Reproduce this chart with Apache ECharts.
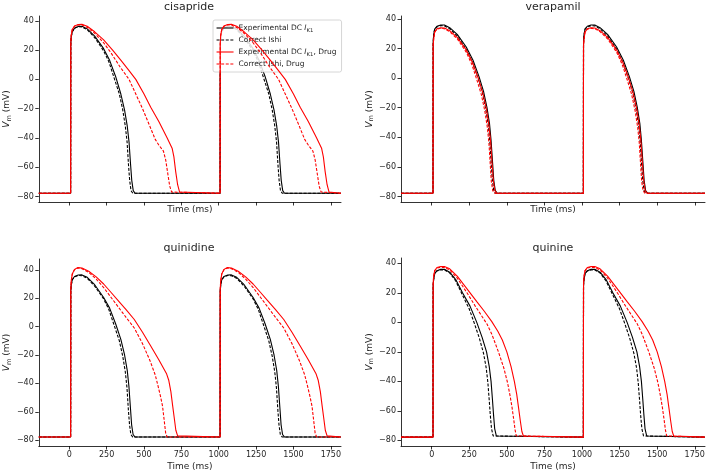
<!DOCTYPE html>
<html><head><meta charset="utf-8">
<script src="https://cdn.jsdelivr.net/npm/echarts@6/dist/echarts.min.js"></script>
<style>html,body{margin:0;padding:0;background:#fff}#c{width:709px;height:473px}</style>
</head><body><div id="c"></div>
<script>
// ---- labels ----
const panelTitles = ['cisapride', 'verapamil', 'quinidine', 'quinine'];
const seriesNames = ['Experimental DC IK1', 'Correct Ishi', 'Experimental DC IK1, Drug', 'Correct Ishi, Drug'];
const yTicks = [-80, -60, -40, -20, 0, 20, 40];
const xTicks = [0, 250, 500, 750, 1000, 1250, 1500, 1750];
const yRanges = [[-83.8, 43.3], [-83.7, 41.9], [-84.1, 47.6], [-83.8, 43.6]];
const xRange = [-204, 1818];

// ---- cisapride [time ms, Vm mV] ----
const cisExp = [[-204,-77.8],[9,-77.8],[10,24],[13,29],[20,32.5],[35,35],[60,36.2],[85,36.3],[120,34.5],[170,29.5],[230,21],[270,13],[310,2],[345,-10],[370,-21],[388,-32],[400,-43],[410,-58],[418,-69],[428,-76],[440,-77.8],
  [1009,-77.8],[1010,24],[1013,29],[1020,32.5],[1035,35],[1060,36.2],[1085,36.3],[1120,34.5],[1170,29.5],[1230,21],[1270,13],[1310,2],[1345,-10],[1370,-21],[1388,-32],[1400,-43],[1410,-58],[1418,-69],[1428,-76],[1440,-77.8],[1818,-77.8]];
const cisIshi = [[-204,-77.8],[9,-77.8],[10,24],[13,29],[20,32.5],[35,35],[60,36],[85,35.8],[120,34],[170,28.5],[230,19.5],[265,12],[300,1],[335,-10],[358,-21],[375,-32],[387,-43],[396,-58],[404,-69],[413,-76],[425,-77.8],
  [1009,-77.8],[1010,24],[1013,29],[1020,32.5],[1035,35],[1060,36],[1085,35.8],[1120,34],[1170,28.5],[1230,19.5],[1265,12],[1300,1],[1335,-10],[1358,-21],[1375,-32],[1387,-43],[1396,-58],[1404,-69],[1413,-76],[1425,-77.8],[1818,-77.8]];
const cisExpDrug = [[-204,-77.8],[9,-77.8],[10,24],[13,30],[20,34],[35,36.5],[60,37.5],[85,37.6],[120,36.3],[170,32.5],[230,27],[290,20],[350,12.5],[400,6],[445,0],[500,-10],[545,-19],[600,-29],[655,-40],[688,-47],[700,-53],[712,-63],[725,-72],[738,-77],[750,-77.8],
  [1009,-77.8],[1010,24],[1013,30],[1020,34],[1035,36.5],[1060,37.5],[1085,37.6],[1120,36.3],[1170,32.5],[1230,27],[1290,20],[1350,12.5],[1400,6],[1445,0],[1500,-10],[1545,-19],[1600,-29],[1655,-40],[1688,-47],[1700,-53],[1712,-63],[1725,-72],[1738,-77],[1750,-77.8],[1818,-77.8]];
const cisIshiDrug = [[-204,-77.8],[9,-77.8],[10,24],[13,30],[20,34],[35,36.3],[60,37.2],[85,37.2],[120,35.5],[170,31.5],[230,25],[280,18],[340,8.5],[400,0],[445,-10],[490,-20],[535,-31],[575,-41],[600,-45],[630,-49],[645,-55],[660,-65],[672,-73],[685,-77],[695,-77.8],
  [1009,-77.8],[1010,24],[1013,30],[1020,34],[1035,36.3],[1060,37.2],[1085,37.2],[1120,35.5],[1170,31.5],[1230,25],[1280,18],[1340,8.5],[1400,0],[1445,-10],[1490,-20],[1535,-31],[1575,-41],[1600,-45],[1630,-49],[1645,-55],[1660,-65],[1672,-73],[1685,-77],[1695,-77.8],[1818,-77.8]];

// ---- verapamil ----
const verExp = [[-204,-77.8],[9,-77.8],[10,24],[13,29],[20,33],[35,35],[60,35.8],[85,35.8],[120,34],[170,29.5],[230,21],[275,12],[315,1],[345,-9],[368,-20],[385,-31],[395,-42],[405,-57],[413,-69],[423,-76],[437,-77.8],
  [1009,-77.8],[1010,24],[1013,29],[1020,33],[1035,35],[1060,35.8],[1085,35.8],[1120,34],[1170,29.5],[1230,21],[1275,12],[1315,1],[1345,-9],[1368,-20],[1385,-31],[1395,-42],[1405,-57],[1413,-69],[1423,-76],[1437,-77.8],[1818,-77.8]];
const verIshi = [[-204,-77.8],[9,-77.8],[10,24],[13,29],[20,33],[35,34.5],[60,35.4],[85,35.2],[120,33.3],[170,28.5],[230,19.5],[270,11],[308,0],[338,-10],[360,-21],[377,-32],[387,-43],[396,-58],[404,-69],[413,-76],[425,-77.8],
  [1009,-77.8],[1010,24],[1013,29],[1020,33],[1035,34.5],[1060,35.4],[1085,35.2],[1120,33.3],[1170,28.5],[1230,19.5],[1270,11],[1308,0],[1338,-10],[1360,-21],[1377,-32],[1387,-43],[1396,-58],[1404,-69],[1413,-76],[1425,-77.8],[1818,-77.8]];
const verExpDrug = [[-204,-77.8],[9,-77.8],[10,22],[13,26],[20,31],[35,33.3],[60,34],[85,33.8],[120,32],[170,27.5],[230,19],[272,10.5],[310,0],[340,-10],[364,-21],[381,-32],[392,-43],[402,-58],[410,-69],[420,-76],[433,-77.8],
  [1009,-77.8],[1010,22],[1013,26],[1020,31],[1035,33.3],[1060,34],[1085,33.8],[1120,32],[1170,27.5],[1230,19],[1272,10.5],[1310,0],[1340,-10],[1364,-21],[1381,-32],[1392,-43],[1402,-58],[1410,-69],[1420,-76],[1433,-77.8],[1818,-77.8]];
const verIshiDrug = [[-204,-77.8],[9,-77.8],[10,22],[13,26],[20,31],[35,33],[60,33.6],[85,33.3],[120,31.3],[170,26.5],[230,17.5],[268,9],[300,-1],[330,-11],[353,-22],[370,-33],[381,-44],[390,-59],[397,-70],[406,-76],[418,-77.8],
  [1009,-77.8],[1010,22],[1013,26],[1020,31],[1035,33],[1060,33.6],[1085,33.3],[1120,31.3],[1170,26.5],[1230,17.5],[1268,9],[1300,-1],[1330,-11],[1353,-22],[1370,-33],[1381,-44],[1390,-59],[1397,-70],[1406,-76],[1418,-77.8],[1818,-77.8]];

// ---- quinidine ----
const qdExp = [[-204,-77.8],[9,-77.8],[10,25],[13,29],[20,33],[35,35.3],[60,36.3],[85,36.4],[120,34.7],[170,29.5],[230,20.5],[270,13],[310,2],[345,-9],[370,-20],[388,-31],[399,-42],[409,-57],[417,-69],[427,-76],[440,-77.8],
  [1009,-77.8],[1010,25],[1013,29],[1020,33],[1035,35.3],[1060,36.3],[1085,36.4],[1120,34.7],[1170,29.5],[1230,20.5],[1270,13],[1310,2],[1345,-9],[1370,-20],[1388,-31],[1399,-42],[1409,-57],[1417,-69],[1427,-76],[1440,-77.8],[1818,-77.8]];
const qdIshi = [[-204,-77.8],[9,-77.8],[10,25],[13,29],[20,33],[35,35],[60,36],[85,35.8],[120,34],[170,28.5],[230,19.5],[265,12],[300,1],[335,-10],[358,-21],[375,-32],[386,-43],[395,-58],[403,-69],[412,-76],[425,-77.8],
  [1009,-77.8],[1010,25],[1013,29],[1020,33],[1035,35],[1060,36],[1085,35.8],[1120,34],[1170,28.5],[1230,19.5],[1265,12],[1300,1],[1335,-10],[1358,-21],[1375,-32],[1386,-43],[1395,-58],[1403,-69],[1412,-76],[1425,-77.8],[1818,-77.8]];
const qdExpDrug = [[-204,-77.8],[9,-77.8],[10,26],[13,32],[20,37],[35,40.3],[58,41.6],[85,41.2],[130,39],[180,35],[230,30],[280,24],[330,18],[380,12],[435,5],[490,-4],[547,-14],[600,-23.5],[650,-33],[666,-38],[680,-46],[692,-56],[702,-64],[713,-73],[725,-77],[735,-77.8],
  [1009,-77.8],[1010,26],[1013,32],[1020,37],[1035,40.3],[1058,41.6],[1085,41.2],[1130,39],[1180,35],[1230,30],[1280,24],[1330,18],[1380,12],[1435,5],[1490,-4],[1547,-14],[1600,-23.5],[1650,-33],[1666,-38],[1680,-46],[1692,-56],[1702,-64],[1713,-73],[1725,-77],[1735,-77.8],[1818,-77.8]];
const qdIshiDrug = [[-204,-77.8],[9,-77.8],[10,26],[13,32],[20,37],[35,40],[58,41.3],[85,40.8],[130,38.2],[180,33.5],[230,27.5],[280,20.5],[330,13.5],[380,6.5],[435,-1],[490,-12],[540,-24],[575,-34],[592,-41],[610,-49],[624,-56],[635,-66],[645,-75],[655,-77.8],
  [1009,-77.8],[1010,26],[1013,32],[1020,37],[1035,40],[1058,41.3],[1085,40.8],[1130,38.2],[1180,33.5],[1230,27.5],[1280,20.5],[1330,13.5],[1380,6.5],[1435,-1],[1490,-12],[1540,-24],[1575,-34],[1592,-41],[1610,-49],[1624,-56],[1635,-66],[1645,-75],[1655,-77.8],[1818,-77.8]];

// ---- quinine ----
const qnExp = [[-204,-77.8],[9,-77.8],[10,25],[13,29],[20,33],[35,35],[60,35.9],[85,36],[120,34],[160,29],[205,20],[255,11],[300,0],[335,-10],[365,-20],[383,-30],[395,-40],[404,-52],[411,-62],[419,-72],[430,-77],[440,-77.8],
  [1009,-77.8],[1010,25],[1013,29],[1020,33],[1035,35],[1060,35.9],[1085,36],[1120,34],[1160,29],[1205,20],[1255,11],[1300,0],[1335,-10],[1365,-20],[1383,-30],[1395,-40],[1404,-52],[1411,-62],[1419,-72],[1430,-77],[1440,-77.8],[1818,-77.8]];
const qnIshi = [[-204,-77.8],[9,-77.8],[10,25],[13,29],[20,33],[35,34.8],[60,35.6],[85,35.5],[120,33.5],[160,28],[205,18.5],[250,9],[285,-1],[318,-11],[345,-21],[363,-31],[374,-41],[383,-53],[390,-63],[398,-72],[409,-77],[420,-77.8],
  [1009,-77.8],[1010,25],[1013,29],[1020,33],[1035,34.8],[1060,35.6],[1085,35.5],[1120,33.5],[1160,28],[1205,18.5],[1250,9],[1285,-1],[1318,-11],[1345,-21],[1363,-31],[1374,-41],[1383,-53],[1390,-63],[1398,-72],[1409,-77],[1420,-77.8],[1818,-77.8]];
const qnExpDrug = [[-204,-77.8],[9,-77.8],[10,26],[13,31],[20,35],[35,37.2],[60,37.8],[85,37.8],[120,36.3],[170,31.3],[244,21.5],[300,14],[350,7.5],[400,0.5],[440,-6],[470,-12],[500,-20],[528,-30],[550,-40],[566,-49],[578,-58],[590,-67],[600,-74],[610,-77],[622,-77.8],
  [1009,-77.8],[1010,26],[1013,31],[1020,35],[1035,37.2],[1060,37.8],[1085,37.8],[1120,36.3],[1170,31.3],[1244,21.5],[1300,14],[1350,7.5],[1400,0.5],[1440,-6],[1470,-12],[1500,-20],[1528,-30],[1550,-40],[1566,-49],[1578,-58],[1590,-67],[1600,-74],[1610,-77],[1622,-77.8],[1818,-77.8]];
const qnIshiDrug = [[-204,-77.8],[9,-77.8],[10,26],[13,31],[20,35],[35,36.8],[60,37.3],[85,37.2],[120,35.5],[170,30],[235,20],[290,11],[335,4],[367,-1],[400,-8],[444,-20],[480,-31],[505,-41],[522,-50],[535,-58],[546,-66],[555,-73],[563,-77],[572,-77.8],
  [1009,-77.8],[1010,26],[1013,31],[1020,35],[1035,36.8],[1060,37.3],[1085,37.2],[1120,35.5],[1170,30],[1235,20],[1290,11],[1335,4],[1367,-1],[1400,-8],[1444,-20],[1480,-31],[1505,-41],[1522,-50],[1535,-58],[1546,-66],[1555,-73],[1563,-77],[1572,-77.8],[1818,-77.8]];

const panelData = [
  [cisExp, cisIshi, cisExpDrug, cisIshiDrug],
  [verExp, verIshi, verExpDrug, verIshiDrug],
  [qdExp, qdIshi, qdExpDrug, qdIshiDrug],
  [qnExp, qnIshi, qnExpDrug, qnIshiDrug]
];

// ---- layout / styles ----
const FONT = 'DejaVu Sans';
const TXT = '#262626';
const grids = [
  {left: 37, top: 16, width: 304, height: 186},
  {left: 401, top: 16, width: 304, height: 186},
  {left: 37, top: 259, width: 304, height: 187},
  {left: 401, top: 258, width: 304, height: 188}
];
const titleTops = [2, 2, 243, 243];
const lineColors = ['#000000', '#000000', '#ff0000', '#ff0000'];
const lineTypes = ['solid', [3, 1.6], 'solid', [3, 1.6]];

const minus = v => String(v).replace('-', '\u2212');

const option = {
  animation: false,
  backgroundColor: '#ffffff',
  textStyle: {fontFamily: FONT},
  title: panelTitles.map((t, i) => ({
    text: t,
    left: grids[i].left + grids[i].width / 2,
    top: titleTops[i],
    textAlign: 'center',
    padding: 0,
    textStyle: {fontSize: 11, fontWeight: 'normal', color: TXT, fontFamily: FONT}
  })),
  grid: grids.map(g => Object.assign({containLabel: false}, g)),
  legend: {
    data: seriesNames,
    orient: 'vertical',
    left: 213, top: 20,
    itemWidth: 17, itemHeight: 8, itemGap: 2,
    padding: [3, 5, 3, 3],
    backgroundColor: 'rgba(255,255,255,0.85)',
    borderColor: '#cccccc', borderWidth: 0.8, borderRadius: 2,
    selectedMode: false,
    itemStyle: {opacity: 0},
    lineStyle: {width: 1.1},
    formatter: n => n.replace('IK1', '{it|I}{sub|K1}'),
    textStyle: {
      fontSize: 7.5, color: TXT, fontFamily: FONT, lineHeight: 10,
      rich: {
        it: {fontSize: 7.5, fontStyle: 'italic', color: TXT, fontFamily: FONT, lineHeight: 10},
        sub: {fontSize: 5.3, color: TXT, fontFamily: FONT, lineHeight: 10, verticalAlign: 'bottom'}
      }
    }
  },
  xAxis: grids.map((g, i) => ({
    type: 'value', gridIndex: i, min: xRange[0], max: xRange[1],
    name: 'Time (ms)', nameLocation: 'middle', nameGap: i < 2 ? 3.5 : 16,
    nameTextStyle: {fontSize: 9, color: TXT, fontFamily: FONT, verticalAlign: 'top'},
    axisLine: {show: true, onZero: false, lineStyle: {color: '#000', width: 0.8}},
    axisTick: {show: true, length: 3.5, lineStyle: {color: '#000', width: 0.8}, customValues: xTicks},
    axisLabel: {show: i >= 2, fontSize: 8, color: TXT, fontFamily: FONT, margin: 5, customValues: xTicks, formatter: minus},
    splitLine: {show: false}
  })),
  yAxis: grids.map((g, i) => ({
    type: 'value', gridIndex: i, min: yRanges[i][0], max: yRanges[i][1],
    name: '{it|V}{sub|m} (mV)', nameLocation: 'middle', nameGap: 22,
    nameTextStyle: {
      fontSize: 9, color: TXT, fontFamily: FONT, lineHeight: 12,
      rich: {
        it: {fontSize: 9, fontStyle: 'italic', color: TXT, fontFamily: FONT, lineHeight: 12},
        sub: {fontSize: 6.5, color: TXT, fontFamily: FONT, lineHeight: 12, verticalAlign: 'bottom'}
      }
    },
    axisLine: {show: true, onZero: false, lineStyle: {color: '#000', width: 0.8}},
    axisTick: {show: true, length: 3.5, lineStyle: {color: '#000', width: 0.8}, customValues: yTicks},
    axisLabel: {fontSize: 8, color: TXT, fontFamily: FONT, margin: 5, customValues: yTicks, formatter: minus},
    splitLine: {show: false}
  })),
  series: []
};

panelData.forEach((traces, p) => {
  traces.forEach((d, k) => {
    option.series.push({
      type: 'line', name: seriesNames[k], xAxisIndex: p, yAxisIndex: p,
      data: d, symbol: 'none', showSymbol: false, silent: true,
      z: 2 + k,
      lineStyle: {color: lineColors[k], width: 1.1, type: lineTypes[k]},
      itemStyle: {color: lineColors[k]},
      emphasis: {disabled: true}
    });
  });
});

const chart = echarts.init(document.getElementById('c'), null, {renderer: 'canvas'});
chart.setOption(option);
</script>
</body></html>
